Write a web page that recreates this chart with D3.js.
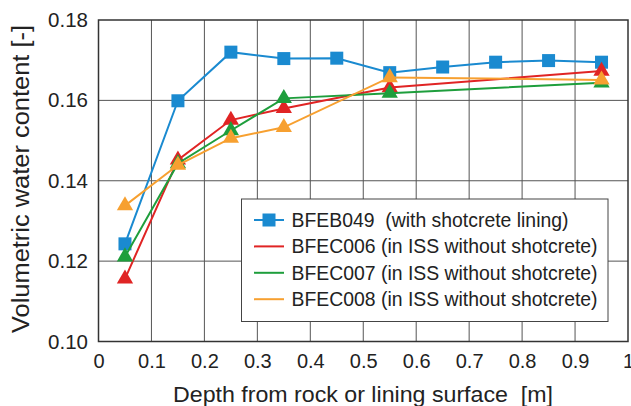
<!DOCTYPE html>
<head>
  <script src="https://d3js.org/d3.v7.min.js"></script>
  <style>
  body {margin: 0; background: white;}
  text {font-family: "Liberation Sans", Arial, sans-serif; fill: #222; white-space: pre;}
  .grid line {stroke: #555; stroke-width: 1px;}
  </style>
</head>
<body>
  <svg id="chart" width="631" height="406"></svg>
  <script>
  // depths [m]
  var depthsB = [0.05, 0.15, 0.25, 0.35, 0.45, 0.55, 0.65, 0.75, 0.85, 0.95];
  var depthsC = [0.05, 0.15, 0.25, 0.35, 0.55, 0.95];

  // volumetric water content [-]
  var bfeb049 = [0.1243, 0.1599, 0.1720, 0.1704, 0.1705, 0.1669, 0.1683, 0.1695, 0.1699, 0.1695];
  var bfec006 = [0.1156, 0.1452, 0.1551, 0.1580, 0.1632, 0.1673];
  var bfec007 = [0.1211, 0.1443, 0.1525, 0.1605, 0.1618, 0.1644];
  var bfec008 = [0.1338, 0.1439, 0.1506, 0.1533, 0.1657, 0.1651];

  var xTicks = [0, 0.1, 0.2, 0.3, 0.4, 0.5, 0.6, 0.7, 0.8, 0.9, 1];
  var yTicks = [0.10, 0.12, 0.14, 0.16, 0.18];

  var legendNames = ["BFEB049  (with shotcrete lining)", "BFEC006 (in ISS without shotcrete)",
                     "BFEC007 (in ISS without shotcrete)", "BFEC008 (in ISS without shotcrete)"];

  var series = [
    {name: legendNames[0], x: depthsB, y: bfeb049, color: "#1a8ad0", marker: "square"},
    {name: legendNames[1], x: depthsC, y: bfec006, color: "#e02424", marker: "triangle"},
    {name: legendNames[2], x: depthsC, y: bfec007, color: "#1e9e3c", marker: "triangle"},
    {name: legendNames[3], x: depthsC, y: bfec008, color: "#f7a030", marker: "triangle"}
  ];

  var svg = d3.select("#chart");
  var mLeft = 98.5, mRight = 628, mTop = 20, mBottom = 341.5;

  var x = d3.scaleLinear().domain([0, 1]).range([mLeft, mRight]);
  var y = d3.scaleLinear().domain([0.10, 0.18]).range([mBottom, mTop]);

  // grid
  var grid = svg.append("g").attr("class", "grid");
  grid.selectAll("line.v").data(xTicks.slice(1, -1)).enter().append("line")
    .attr("x1", function(d) { return x(d); }).attr("x2", function(d) { return x(d); })
    .attr("y1", mTop).attr("y2", mBottom);
  grid.selectAll("line.h").data(yTicks.slice(1, -1)).enter().append("line")
    .attr("x1", mLeft).attr("x2", mRight)
    .attr("y1", function(d) { return y(d); }).attr("y2", function(d) { return y(d); });

  svg.append("rect")
    .attr("x", mLeft).attr("y", mTop)
    .attr("width", mRight - mLeft).attr("height", mBottom - mTop)
    .attr("fill", "none").attr("stroke", "#333").attr("stroke-width", 1.5);

  // axes (labels only)
  svg.append("g").attr("class", "xax").attr("transform", "translate(0," + mBottom + ")")
    .call(d3.axisBottom(x).tickValues(xTicks).tickSize(0).tickPadding(12)
      .tickFormat(function(d) { return d === 0 || d === 1 ? d3.format("d")(d) : d3.format(".1f")(d); }));
  svg.append("g").attr("class", "yax").attr("transform", "translate(" + mLeft + ",0)")
    .call(d3.axisLeft(y).tickValues(yTicks).tickSize(0).tickPadding(10.5).tickFormat(d3.format(".2f")));
  svg.selectAll(".domain").remove();
  svg.selectAll(".tick text").attr("font-family", "Liberation Sans, Arial, sans-serif").attr("fill", "#222");
  svg.selectAll(".xax .tick text").attr("font-size", 20);
  svg.selectAll(".yax .tick text").attr("font-size", 20.5);

  svg.append("text")
    .attr("x", 173).attr("y", 402)
    .attr("font-size", 22)
    .attr("textLength", 380).attr("lengthAdjust", "spacingAndGlyphs")
    .text("Depth from rock or lining surface  [m]");

  svg.append("text")
    .attr("transform", "translate(28.5,333) rotate(-90)")
    .attr("font-size", 23)
    .attr("textLength", 308).attr("lengthAdjust", "spacingAndGlyphs")
    .text("Volumetric water content [-]");

  var line = d3.line();
  var tri = d3.symbol().type(d3.symbolTriangle).size(115);

  series.forEach(function(s) {
    var pts = s.x.map(function(d, i) { return [x(d), y(s.y[i])]; });
    svg.append("path").attr("d", line(pts))
      .attr("fill", "none").attr("stroke", s.color).attr("stroke-width", 2);
    var g = svg.append("g");
    if (s.marker === "square") {
      g.selectAll("rect").data(pts).enter().append("rect")
        .attr("x", function(p) { return p[0] - 6.5; }).attr("y", function(p) { return p[1] - 6.5; })
        .attr("width", 13).attr("height", 13).attr("fill", s.color);
    } else {
      g.selectAll("path").data(pts).enter().append("path")
        .attr("d", tri)
        .attr("transform", function(p) { return "translate(" + p[0] + "," + p[1] + ")"; })
        .attr("fill", s.color);
    }
  });

  // legend
  var lg = svg.append("g");
  lg.append("rect")
    .attr("x", 241.5).attr("y", 199).attr("width", 366.5).attr("height", 122.5)
    .attr("fill", "white").attr("stroke", "#444").attr("stroke-width", 1);
  series.forEach(function(s, i) {
    var ly = 220 + i * 26.4;
    lg.append("line").attr("x1", 254).attr("x2", 284).attr("y1", ly).attr("y2", ly)
      .attr("stroke", s.color).attr("stroke-width", 2);
    if (s.marker === "square") {
      lg.append("rect").attr("x", 262.5).attr("y", ly - 6.5).attr("width", 13).attr("height", 13).attr("fill", s.color);
    }
    lg.append("text").attr("x", 291.5).attr("y", ly + 7).attr("font-size", 19.4).text(s.name);
  });
  </script>
</body>
